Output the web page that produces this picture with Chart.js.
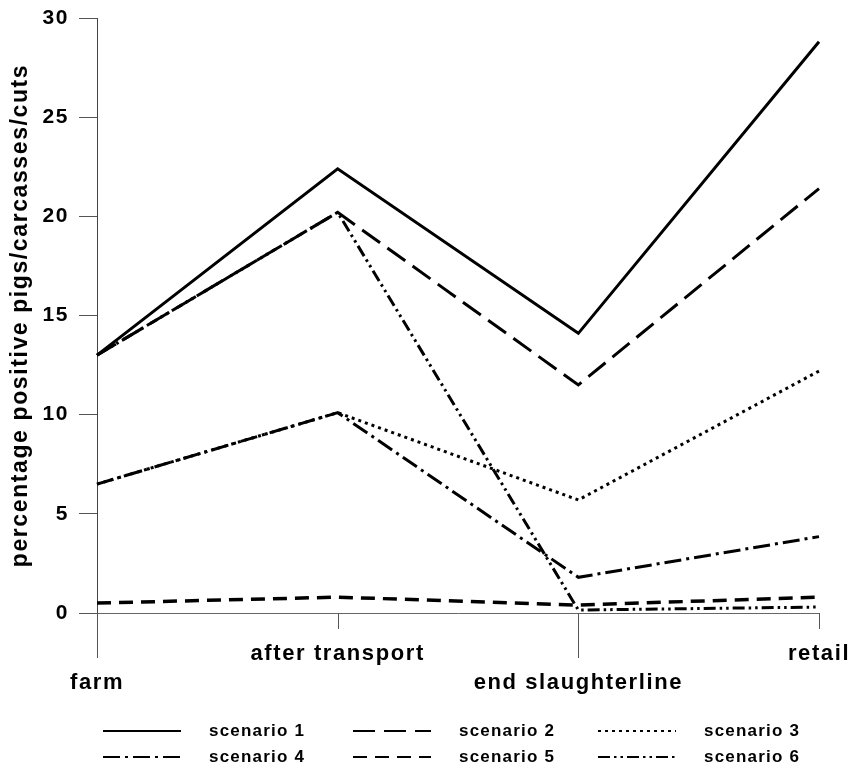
<!DOCTYPE html>
<html>
<head>
<meta charset="utf-8">
<script src="https://cdn.jsdelivr.net/npm/chart.js@4"></script>
<style>
    html, body { margin:0; padding:0; background:#fff; }
    #wrap { width:853px; height:769px; }
</style>
</head>
<body>
<div id="wrap"><canvas id="stageChart" width="853" height="769"></canvas></div>
<script>
// stages along the chain (empty line staggers the labels like the original)
const stages = [['', 'farm'], ['after transport'], ['', 'end slaughterline'], ['retail']];
const scenarioNames = ['scenario 1', 'scenario 2', 'scenario 3', 'scenario 4', 'scenario 5', 'scenario 6'];

const scenario1 = [13.0, 22.4, 14.1, 28.8];
const scenario2 = [13.0, 20.2, 11.5, 21.4];
const scenario3 = [6.5, 10.1, 5.7, 12.2];
const scenario4 = [6.5, 10.1, 1.8, 3.85];
const scenario5 = [0.5, 0.8, 0.4, 0.8];
const scenario6 = [13.0, 20.2, 0.15, 0.3];

const yMin = 0, yMax = 30, yStep = 5;

const dashes = [[], [22, 9], [3, 4], [17, 5, 3, 5], [14, 8], [12, 4, 2.5, 4, 2.5, 4]];
const widths = [3, 3, 3, 3, 3.5, 3];
const FONT = "'Liberation Sans', Arial, sans-serif";

const seriesValues = [scenario1, scenario2, scenario3, scenario4, scenario5, scenario6];

const datasets = seriesValues.map((vals, i) => ({
    label: scenarioNames[i],
    data: vals,
    borderColor: '#000',
    backgroundColor: '#000',
    borderWidth: widths[i],
    borderDash: dashes[i],
    borderCapStyle: 'butt',
    borderJoinStyle: 'miter',
    pointRadius: 0,
    fill: false,
    tension: 0
}));

// canvas text in the scan is a bit wider than Arial, so spread it a little
const spacingPlugin = {
    id: 'spacing',
    beforeLayout(chart){ chart.ctx.letterSpacing = '1.6px'; },
    beforeDraw(chart){ chart.ctx.letterSpacing = '1.6px'; }
};

// tick marks below the x axis (alternating long/short) and the y axis running past zero
const axisMarks = {
    id: 'axisMarks',
    afterDraw(chart){
        const {ctx, chartArea, scales} = chart;
        const xs = scales.x;
        ctx.save();
        ctx.strokeStyle = '#555';
        ctx.lineWidth = 1;
        ctx.setLineDash([]);
        ctx.beginPath();
        ctx.moveTo(chartArea.left + 0.5, chartArea.bottom);
        ctx.lineTo(chartArea.left + 0.5, chartArea.bottom + 45);
        stages.forEach((s, i) => {
            const px = Math.round(xs.getPixelForTick(i)) + 0.5;
            const len = i % 2 === 0 ? 45 : 16;
            ctx.moveTo(px, chartArea.bottom);
            ctx.lineTo(px, chartArea.bottom + len);
        });
        ctx.stroke();
        ctx.restore();
    }
};

const dashLegend = {
    id: 'dashLegend',
    afterDraw(chart){
        const ctx = chart.ctx;
        const colX = [103, 353, 598];
        const rowY = [731, 757];
        ctx.save();
        ctx.letterSpacing = '1.2px';
        ctx.font = 'bold 17px ' + FONT;
        ctx.textBaseline = 'middle';
        ctx.fillStyle = '#000';
        chart.data.datasets.forEach((ds, i) => {
            const x = colX[i % 3];
            const y = rowY[Math.floor(i / 3)];
            ctx.beginPath();
            ctx.strokeStyle = '#000';
            ctx.lineWidth = 2;
            ctx.lineCap = 'butt';
            ctx.setLineDash(ds.borderDash);
            ctx.moveTo(x, y);
            ctx.lineTo(x + 78, y);
            ctx.stroke();
            ctx.setLineDash([]);
            ctx.fillText(ds.label, x + 106, y);
        });
        ctx.restore();
    }
};

new Chart(document.getElementById('stageChart').getContext('2d'), {
    type: 'line',
    data: { labels: stages, datasets: datasets },
    options: {
        responsive: false,
        animation: false,
        layout: { padding: { top: 18, right: 34, left: 0, bottom: 0 } },
        plugins: {
            legend: { display: false },
            tooltip: { enabled: false }
        },
        scales: {
            x: {
                offset: false,
                // invisible tick marks just push the labels down; real marks come from axisMarks
                grid: { display: true, drawOnChartArea: false, drawTicks: true, tickLength: 26, color: 'rgba(0,0,0,0)' },
                border: { display: true, color: '#666', width: 1 },
                ticks: {
                    color: '#000',
                    padding: 0,
                    maxRotation: 0,
                    autoSkip: false,
                    font: { family: FONT, size: 22, weight: 'bold', lineHeight: 1.32 }
                },
                afterFit(scale){ scale.height = 156; }
            },
            y: {
                min: yMin,
                max: yMax,
                grid: { drawOnChartArea: false, drawTicks: true, tickLength: 18, color: '#555' },
                border: { display: true, color: '#444', width: 1 },
                ticks: {
                    stepSize: yStep,
                    color: '#000',
                    padding: 10,
                    font: { family: FONT, size: 21, weight: 'bold', lineHeight: 0.75 }
                },
                title: {
                    display: true,
                    text: 'percentage positive pigs/carcasses/cuts',
                    color: '#000',
                    padding: { top: 7, bottom: 0 },
                    font: { family: FONT, size: 23, weight: 'bold' }
                },
                afterFit(scale){ scale.width = 97; }
            }
        }
    },
    plugins: [spacingPlugin, axisMarks, dashLegend]
});
</script>
</body>
</html>
